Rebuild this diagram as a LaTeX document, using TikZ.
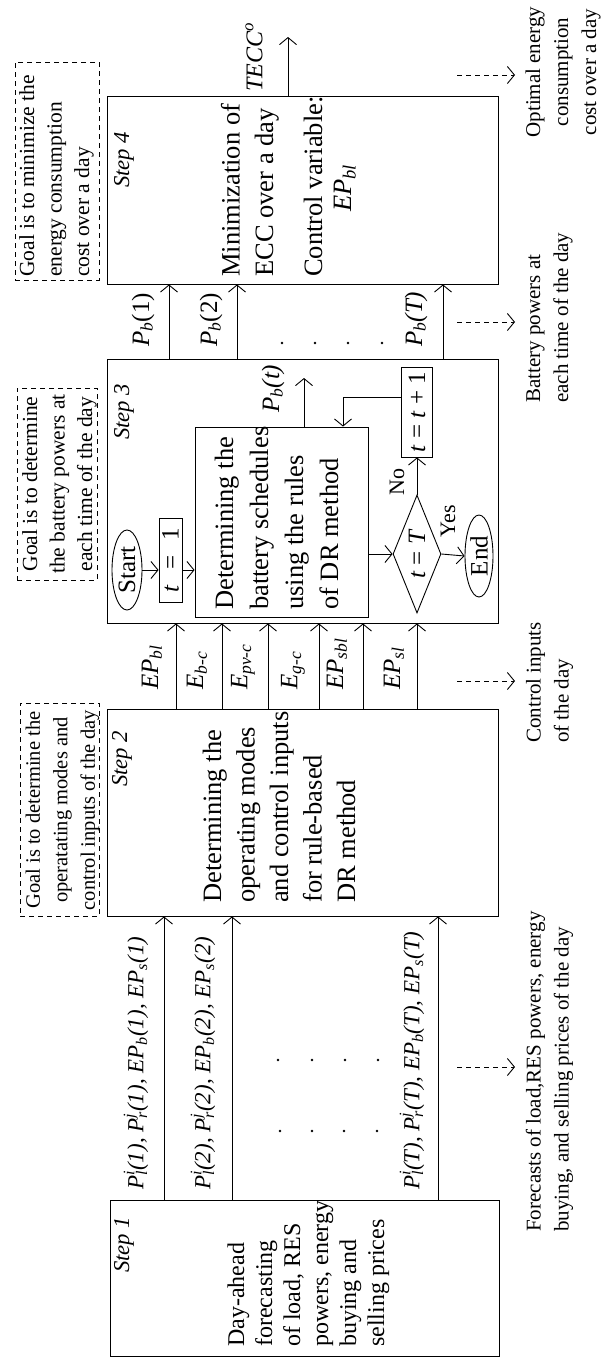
\documentclass[tikz,border=0pt]{standalone}
\usepackage{fontspec}
\setmainfont{Liberation Serif}
\usetikzlibrary{arrows.meta,shapes.geometric}
\newcommand{\ssb}[2]{\rlap{\textsuperscript{#1}}\textsubscript{#2}}
\begin{document}
\begin{tikzpicture}[x=1pt,y=-1pt,
  box/.style={draw,line width=0.9pt,inner sep=0pt,rectangle},
  goal/.style={draw,line width=0.9pt,inner sep=0pt,rectangle,dash pattern=on 5pt off 4pt},
  arr/.style={line width=0.9pt,-{Straight Barb[length=7pt,width=17pt]}},
  darr/.style={arr,dash pattern=on 5pt off 4pt},
  rt/.style={rotate=90,inner sep=0pt},
  big/.style={font=\fontsize{26.5}{33.5}\selectfont},
  small/.style={font=\fontsize{21.5}{27.5}\selectfont},
  side/.style={font=\fontsize{21}{28}\selectfont},
  lab/.style={rt,anchor=west,font=\fontsize{25}{30}\selectfont\itshape},
  plab/.style={rt,anchor=west,font=\fontsize{23}{28}\selectfont\itshape},
  steplab/.style={rt,anchor=west,font=\fontsize{22.7}{27}\selectfont\itshape},
  flow/.style={font=\fontsize{25}{30}\selectfont},
]
\useasboundingbox (0,0) rectangle (603,1358);

% main step boxes
\node[box,minimum width=391pt,minimum height=188pt] (s4) at (302.5,190) {};
\node[box,minimum width=391pt,minimum height=264pt] (s3) at (302.5,491) {};
\node[box,minimum width=391pt,minimum height=207pt] (s2) at (302.5,812.5) {};
\node[box,minimum width=389pt,minimum height=156pt] (s1) at (304.5,1278) {};

% goal boxes
\node[goal,minimum width=84pt,minimum height=218pt] (g4) at (57,171) {};
\node[goal,minimum width=80pt,minimum height=192pt] (g3) at (57,484) {};
\node[goal,minimum width=79pt,minimum height=213pt] (g2) at (59.5,809.5) {};
\node[rt,small,align=left,anchor=west] (g4t) at (56.5,277) {Goal is to minimize the\\energy consumption\\cost over a day};
\node[rt,small,align=center] (g3t) at (59.5,484) {Goal is to determine\\the battery powers at\\each time of the day};
\node[rt,font=\fontsize{20.5}{27.5}\selectfont,align=center] (g2t) at (62.5,810) {Goal is to determine the\\operatating modes and\\control inputs of the day};

% step labels
\node[steplab] (l1) at (124,1273) {Step 1};
\node[steplab] (l2) at (122,787) {Step 2};
\node[steplab] (l3) at (124,440) {Step 3};
\node[steplab] (l4) at (124,188) {Step 4};

% step texts
\node[rt,align=left,anchor=west,font=\fontsize{24}{28}\selectfont] (s1t) at (308.5,1347) {Day-ahead\\forecasting\\of load, RES\\powers, energy\\buying and\\selling prices};
\node[rt,big,align=left,anchor=west] (s2t) at (279,903) {Determining the\\operating modes\\and control inputs\\for rule-based\\DR method};
\node[rt,big,align=left,anchor=west] (s4t) at (250,277) {Minimization of\\ECC over a day};
\node[rt,big,anchor=west] (s4c) at (313,277) {Control variable:};
\node[rt,big] (s4v) at (345,188) {\itshape EP\textsubscript{bl}};

% step 3 flowchart
\node[box,minimum width=173pt,minimum height=190pt] (det) at (281.5,522) {};
\node[rt,align=left,anchor=west,font=\fontsize{26.5}{35}\selectfont] (dett) at (276.5,610) {Determining the\\battery schedules\\using the rules\\of DR method};
\node[draw,ellipse,line width=0.9pt,minimum width=30pt,minimum height=80pt,inner sep=0pt] (start) at (127,570) {};
\node[rt,flow] (startt) at (start) {Start};
\node[box,minimum width=23pt,minimum height=84pt] (t1) at (170.5,560) {};
\node[rt,flow] (t1t) at (t1) {\textit{t}\hspace{0.6em}=\hspace{0.6em}1};
\node[box,minimum width=31pt,minimum height=90pt] (t2) at (417,412) {};
\node[rt,flow] (t2t) at (t2) {\textit{t} = \textit{t} + 1};
\node[draw,diamond,line width=0.9pt,minimum width=48pt,minimum height=118pt,inner sep=0pt] (dia) at (417,554) {};
\node[rt,flow] (diat) at (dia) {\textit{t} = \textit{T}};
\node[draw,ellipse,line width=0.9pt,minimum width=28pt,minimum height=82pt,inner sep=0pt] (end) at (479,556) {};
\node[rt,flow] (endt) at (end) {End};
\node[rt,font=\fontsize{22}{26}\selectfont] (no) at (397,482) {No};
\node[rt,font=\fontsize{22}{26}\selectfont] (yes) at (448,521) {Yes};

\draw[arr] (start.east) -- (start.east -| t1.west);
\draw[arr] (t1.east |- start.east) -- (det.west |- start.east);
\draw[arr] (det.east |- dia.west) -- (dia.west);
\draw[arr] (dia.north) -- (t2.south);
\draw[arr] (dia.east) -- (end.west);
\coordinate (lp) at (343,397);
\draw[arr] (t2.west |- lp) -- (lp) -- (lp |- det.north);
\coordinate (pbt) at (304,378);
\draw[arr] (det.north -| pbt) -- (pbt);
\node[lab] (pbtl) at (273,413) {P\textsubscript{b}(t)};

% TECC output
\coordinate (tc) at (288,37);
\draw[arr] (s4.north -| tc) -- (tc);
\node[rt,anchor=west,font=\fontsize{24}{28}\selectfont\itshape] (tecc) at (254,92) {TECC\textsuperscript{o}};

% step 1 -> step 2
\foreach \x [count=\i] in {164,232,438} {
  \coordinate (a\i) at (\x,0);
  \draw[arr] (s1.north -| a\i) -- (s2.south -| a\i);
}
\node[plab] (p1) at (136,1190) {P\ssb{i}{l}(1), P\ssb{j}{r}(1), EP\textsubscript{b}(1), EP\textsubscript{s}(1)};
\node[plab] (p2) at (203,1190) {P\ssb{i}{l}(2), P\ssb{j}{r}(2), EP\textsubscript{b}(2), EP\textsubscript{s}(2)};
\node[plab] (pT) at (412,1190) {P\ssb{i}{l}(T), P\ssb{j}{r}(T), EP\textsubscript{b}(T), EP\textsubscript{s}(T)};

% step 2 -> step 3
\foreach \x [count=\i] in {176,222,268,319,363,417} {
  \coordinate (b\i) at (\x,0);
  \draw[arr] (s2.north -| b\i) -- (s3.south -| b\i);
}
\node[lab] (c1) at (152,690) {EP\textsubscript{bl}};
\node[lab] (c2) at (197,690) {E\textsubscript{b-c}};
\node[lab] (c3) at (243,690) {E\textsubscript{pv-c}};
\node[lab] (c4) at (293,690) {E\textsubscript{g-c}};
\node[lab] (c5) at (337,690) {EP\textsubscript{sbl}};
\node[lab] (c6) at (394,690) {EP\textsubscript{sl}};

% step 3 -> step 4
\foreach \x [count=\i] in {169,237,443} {
  \coordinate (d\i) at (\x,0);
  \draw[arr] (s3.north -| d\i) -- (s4.south -| d\i);
}
\node[lab] (q1) at (143,347) {P\textsubscript{b}\textup{(1)}};
\node[lab] (q2) at (211,347) {P\textsubscript{b}\textup{(2)}};
\node[lab] (qT) at (416,347) {P\textsubscript{b}(T)};

% dots
\foreach \x/\y in {282/343,315/343,348/343,382/343,278/1060,312/1060,345/1060,378/1060,280/1131,312/1131,344/1131,377/1131}
  \fill (\x,\y) circle[radius=1.3pt];

% side annotations
\coordinate (e1a) at (457,75);   \coordinate (e1b) at (515,75);
\coordinate (e2a) at (457,322);  \coordinate (e2b) at (515,322);
\coordinate (e3a) at (457,681);  \coordinate (e3b) at (515,681);
\coordinate (e4a) at (457,1067); \coordinate (e4b) at (515,1067);
\draw[darr] (e1a) -- (e1b);
\draw[darr] (e2a) -- (e2b);
\draw[darr] (e3a) -- (e3b);
\draw[darr] (e4a) -- (e4b);
\node[rt,side,align=center] (o1) at (563,72) {Optimal energy\\consumption\\cost over a day};
\node[rt,side,align=left,anchor=west] (o2) at (549.5,403) {Battery powers at\\each time of the day};
\node[rt,side,align=left,anchor=west] (o3) at (549.5,743) {Control inputs\\of the day};
\node[rt,side,align=left,anchor=west] (o4) at (549.5,1232) {Forecasts of load,RES powers, energy\\buying, and selling prices of the day};
\end{tikzpicture}
\end{document}
